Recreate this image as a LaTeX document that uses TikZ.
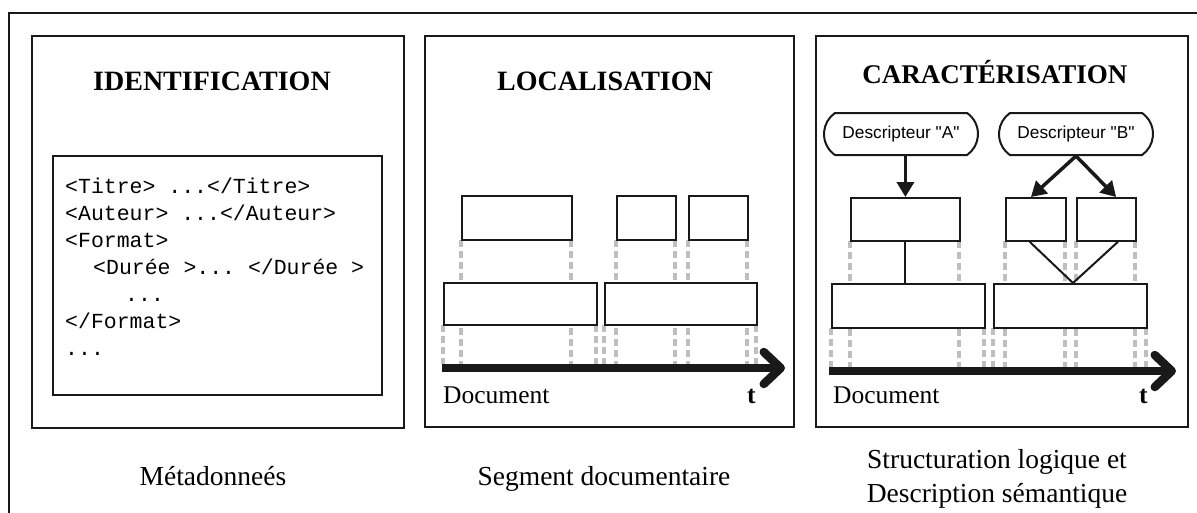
\documentclass[tikz,border=0pt]{standalone}
\usepackage{fontspec}
\setmainfont{Liberation Serif}
\setsansfont{Liberation Sans}[Ligatures=TeXOff]
\setmonofont{Liberation Mono}
\usetikzlibrary{arrows.meta,shapes.misc,calc}
\begin{document}
\begin{tikzpicture}[x=1pt,y=-1pt,
  frame/.style={draw=black!90,line width=2pt},
  seg/.style={draw=black!90,line width=1.8pt,fill=white,inner sep=0pt},
  guide/.style={draw=black!25,line width=3.2pt,dash pattern=on 7pt off 4pt},
  timeline/.style={line width=8.5pt,black!90,-{Straight Barb[length=17pt,width=32pt,round]}},
  link/.style={line width=3.5pt,black!90,-{Triangle[length=15pt,width=17pt]}},
  plain/.style={line width=2pt,black!90},
  title/.style={font=\fontsize{28}{30}\selectfont\bfseries,anchor=base},
  caption/.style={font=\fontsize{27.5}{34}\selectfont,anchor=base},
  code/.style={font=\ttfamily\fontsize{21.5}{27}\selectfont,anchor=base west,inner sep=0pt},
  doclabel/.style={font=\fontsize{25.5}{28}\selectfont,anchor=base west,inner sep=0pt},
  desc/.style={rounded rectangle,rounded rectangle arc length=110,draw=black!90,line width=2pt,
     minimum width=154pt,minimum height=42pt,inner sep=0pt,font=\sffamily\fontsize{17.3}{20}\selectfont}]
\useasboundingbox (0,0) rectangle (1197,512);
\clip (0,0) rectangle (1197,512);
\fill[white] (0,0) rectangle (1197,512);
% outer frame (cut by the page)
\draw[line width=2.5pt,black!90] (9,13) rectangle (1230,540);
% panels
\node[frame,inner sep=0pt,minimum width=372pt,minimum height=392pt,anchor=north west] (p1) at (31,35) {};
\node[frame,inner sep=0pt,minimum width=369pt,minimum height=391pt,anchor=north west] (p2) at (424,35) {};
\node[frame,inner sep=0pt,minimum width=372pt,minimum height=391pt,anchor=north west] (p3) at (815,35) {};
% titles
\node[title] (t1) at (212,90) {IDENTIFICATION};
\node[title] (t2) at (605,90) {LOCALISATION};
\node[title,font=\fontsize{27}{30}\selectfont\bfseries] (t3) at (995,83) {CARACTÉRISATION};
% panel 1 : code box
\node[frame,inner sep=0pt,minimum width=329pt,minimum height=239pt,anchor=north west] (cb) at (52,155) {};
\node[code] (c1) at (65,193) {<Titre> ...</Titre>};
\node[code] (c2) at (65,220) {<Auteur> ...</Auteur>};
\node[code] (c3) at (65,247) {<Format>};
\node[code] (c4) at (93,274) {<Durée >... </Durée >};
\node[code] (c5) at (125,301) {...};
\node[code] (c6) at (65,328) {</Format>};
\node[code] (c7) at (65,355) {...};
% panel 2 : guides
\foreach \x in {461,571,616,675,688,747} \draw[guide] (\x,240) -- (\x,364);
\foreach \x in {443,596,604,756} \draw[guide] (\x,325) -- (\x,364);
% panel 2 : segments
\node[seg,minimum width=110pt,minimum height=44pt,anchor=north west] (a1) at (461,195) {};
\node[seg,minimum width=59pt,minimum height=44pt,anchor=north west] (a2) at (616,195) {};
\node[seg,minimum width=59pt,minimum height=44pt,anchor=north west] (a3) at (688,195) {};
\node[seg,minimum width=153pt,minimum height=42pt,anchor=north west] (b1) at (443,282) {};
\node[seg,minimum width=152pt,minimum height=42pt,anchor=north west] (b2) at (604,282) {};
\coordinate (s2) at (442,368);
\coordinate (e2) at (785,368);
\draw[timeline] (s2) -- (e2);
\node[doclabel] (d2) at (443,403) {Document};
\node[doclabel,font=\fontsize{25.5}{28}\selectfont\bfseries] (tt2) at (747,403) {t};
% panel 3 : guides
\foreach \x in {850,959,1005,1065,1076,1135} \draw[guide] (\x,241) -- (\x,367);
\foreach \x in {831,984,993,1146} \draw[guide] (\x,328) -- (\x,367);
% panel 3 : segments
\node[seg,minimum width=109pt,minimum height=43pt,anchor=north west] (m1) at (850,197) {};
\node[seg,minimum width=60pt,minimum height=43pt,anchor=north west] (m2) at (1005,197) {};
\node[seg,minimum width=59pt,minimum height=43pt,anchor=north west] (m3) at (1076,197) {};
\node[seg,minimum width=153pt,minimum height=44pt,anchor=north west] (n1) at (831,283) {};
\node[seg,minimum width=153pt,minimum height=44pt,anchor=north west] (n2) at (993,283) {};
\coordinate (j) at (1073,283);
\draw[plain] (m1.south) -- (m1.south |- n1.north);
\draw[plain] ($(m2.south west)!0.4!(m2.south east)$) -- (j);
\draw[plain] ($(m3.south west)!0.69!(m3.south east)$) -- (j);
% descriptors
\node[desc] (dA) at (901,134) {Descripteur "A"};
\node[desc] (dB) at (1076,134) {Descripteur "B"};
\draw[link] (dA.south -| m1.north) -- (m1.north);
\draw[link] (dB.south) -- ($(m2.north west)!0.42!(m2.north east)$);
\draw[link] (dB.south) -- ($(m3.north west)!0.66!(m3.north east)$);
\coordinate (s3) at (829,371);
\coordinate (e3) at (1176,371);
\draw[timeline] (s3) -- (e3);
\node[doclabel] (d3) at (833,403) {Document};
\node[doclabel,font=\fontsize{25.5}{28}\selectfont\bfseries] (tt3) at (1139,403) {t};
% captions
\node[caption] (l1) at (213,485) {Métadonneés};
\node[caption] (l2) at (604,485) {Segment documentaire};
\node[caption] (l3a) at (997,468) {Structuration logique et};
\node[caption] (l3b) at (997,502) {Description sémantique};
\end{tikzpicture}
\end{document}
